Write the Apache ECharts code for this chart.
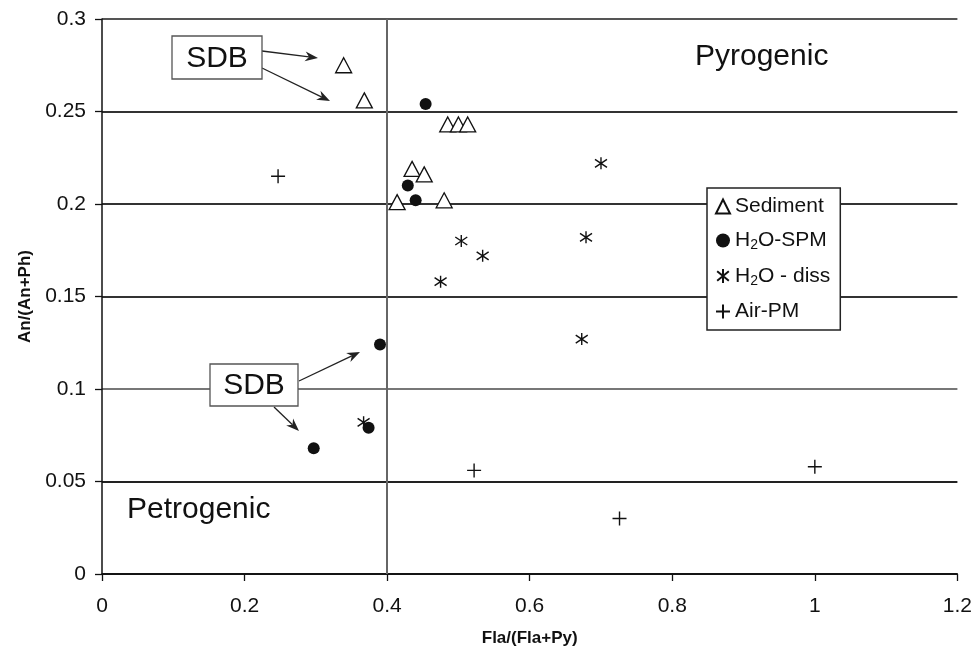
<!DOCTYPE html>
<html>
<head>
<meta charset="utf-8">
<script src="https://cdn.jsdelivr.net/npm/echarts@6/dist/echarts.min.js"></script>
<style>
  html, body { margin: 0; padding: 0; background: #fff; }
  #chart { width: 975px; height: 653px; }
</style>
</head>
<body>
<div id="chart"></div>
<script>
// values: [Fla/(Fla+Py), An/(An+Ph)]
var sediment = [
  [0.339, 0.275], [0.368, 0.256], [0.485, 0.243], [0.500, 0.243], [0.513, 0.243],
  [0.435, 0.219], [0.452, 0.216], [0.414, 0.201], [0.480, 0.202]
];
var h2oSpm = [
  [0.454, 0.254], [0.429, 0.210], [0.440, 0.202], [0.390, 0.124], [0.374, 0.079], [0.297, 0.068]
];
var h2oDiss = [
  [0.700, 0.222], [0.504, 0.180], [0.534, 0.172], [0.475, 0.158], [0.679, 0.182],
  [0.673, 0.127], [0.367, 0.082]
];
var airPm = [
  [0.247, 0.215], [0.522, 0.056], [1.0, 0.058], [0.726, 0.030]
];
var seriesNames = ["Sediment", "H2O-SPM", "H2O - diss", "Air-PM"];
var boundaryX = 0.4;

var FONT = "'Liberation Sans', Arial, sans-serif";
var asteriskPath = "path://M6,0 L6,12 M1,2 L11,10 M1,10 L11,2";
var plusPath = "path://M0,6 L12,6 M6,0 L6,12";

// arrow = line + stealth-like head
function arrow(x1, y1, x2, y2) {
  var dx = x2 - x1, dy = y2 - y1;
  var len = Math.sqrt(dx * dx + dy * dy);
  var ux = dx / len, uy = dy / len;
  var px = -uy, py = ux;
  var L = 13, W = 5, N = 9;
  var head = [
    [x2, y2],
    [x2 - ux * L + px * W, y2 - uy * L + py * W],
    [x2 - ux * N, y2 - uy * N],
    [x2 - ux * L - px * W, y2 - uy * L - py * W]
  ];
  return [
    { type: "line", silent: true, z: 100, shape: { x1: x1, y1: y1, x2: x2 - ux * N, y2: y2 - uy * N },
      style: { stroke: "#222", lineWidth: 1.3 } },
    { type: "polygon", silent: true, z: 100, shape: { points: head }, style: { fill: "#222" } }
  ];
}

function sdbBox(x, y, w, h) {
  return [
    { type: "rect", silent: true, z: 100, shape: { x: x, y: y, width: w, height: h },
      style: { fill: "#fff", stroke: "#555", lineWidth: 1.3 } },
    { type: "text", silent: true, z: 101, style: { text: "SDB", x: x + w / 2, y: y + h / 2 + 1,
      fontSize: 30, fontFamily: FONT, fill: "#111", textAlign: "center", textVerticalAlign: "middle" } }
  ];
}

var graphics = []
  .concat(arrow(262, 51, 318, 58))
  .concat(arrow(262, 68, 330, 101))
  .concat(arrow(299, 381, 360, 352))
  .concat(arrow(274, 407, 299, 431))
  .concat(sdbBox(172, 36, 90, 43))
  .concat(sdbBox(210, 364, 88, 42))
  .concat([
    { type: "text", silent: true, z: 100, style: { text: "Pyrogenic", x: 695, y: 57, fontSize: 30,
      fontFamily: FONT, fill: "#111", textVerticalAlign: "middle" } },
    { type: "text", silent: true, z: 100, style: { text: "Petrogenic", x: 127, y: 510, fontSize: 30,
      fontFamily: FONT, fill: "#111", textVerticalAlign: "middle" } }
  ]);

var myChart = echarts.init(document.getElementById("chart"));

var option = {
  backgroundColor: "#fff",
  animation: false,
  grid: { left: 102, top: 19, right: 17, bottom: 79, containLabel: false },
  legend: {
    data: seriesNames,
    orient: "vertical",
    left: 707,
    top: 188,
    padding: [8, 10, 8, 8],
    itemWidth: 14,
    itemHeight: 14,
    itemGap: 13,
    backgroundColor: "#fff",
    borderColor: "#222",
    borderWidth: 1.5,
    borderRadius: 0,
    formatter: function (name) {
      return name.replace("H2O", "H{sub|2}O");
    },
    textStyle: {
      fontSize: 21,
      fontFamily: FONT,
      color: "#111",
      rich: { sub: { fontSize: 14, fontFamily: FONT, color: "#111", padding: [10, 0, 0, 0] } }
    }
  },
  xAxis: {
    type: "value",
    min: 0, max: 1.2, interval: 0.2,
    name: "Fla/(Fla+Py)",
    nameLocation: "middle",
    nameGap: 56,
    nameTextStyle: { fontSize: 17, fontWeight: "bold", fontFamily: FONT, color: "#111" },
    axisLine: { lineStyle: { color: "#111", width: 1.5 } },
    axisTick: { show: true, length: 7, lineStyle: { color: "#111", width: 1.3 } },
    axisLabel: { fontSize: 21, fontFamily: FONT, color: "#111", margin: 22,
      formatter: function (v) { return String(+v.toFixed(2)); } },
    splitLine: { show: false }
  },
  yAxis: {
    type: "value",
    min: 0, max: 0.3, interval: 0.05,
    name: "An/(An+Ph)",
    nameLocation: "middle",
    nameGap: 64,
    nameTextStyle: { fontSize: 17, fontWeight: "bold", fontFamily: FONT, color: "#111" },
    axisLine: { show: true, lineStyle: { color: "#111", width: 1.5 } },
    axisTick: { show: true, length: 7, lineStyle: { color: "#111", width: 1.3 } },
    axisLabel: { fontSize: 21, fontFamily: FONT, color: "#111", margin: 16,
      formatter: function (v) { return String(+v.toFixed(2)); } },
    splitLine: { show: true, lineStyle: {
      color: ["#222", "#222", "#777", "#333", "#333", "#333", "#555"], width: 2 } }
  },
  series: [
    {
      name: seriesNames[0],
      type: "scatter",
      data: sediment,
      symbol: "triangle",
      symbolSize: [16, 15],
      itemStyle: { color: "#fff", borderColor: "#111", borderWidth: 1.3, opacity: 1 },
      z: 3,
      markLine: {
        silent: true,
        symbol: ["none", "none"],
        label: { show: false },
        lineStyle: { color: "#666", width: 2, type: "solid" },
        data: [{ xAxis: boundaryX }]
      }
    },
    {
      name: seriesNames[1],
      type: "scatter",
      data: h2oSpm,
      symbol: "circle",
      symbolSize: 12,
      itemStyle: { color: "#111", opacity: 1 },
      z: 4
    },
    {
      name: seriesNames[2],
      type: "scatter",
      data: h2oDiss,
      symbol: asteriskPath,
      symbolSize: 12,
      itemStyle: { color: "rgba(0,0,0,0)", borderColor: "#111", borderWidth: 1.4, opacity: 1 },
      z: 5
    },
    {
      name: seriesNames[3],
      type: "scatter",
      data: airPm,
      symbol: plusPath,
      symbolSize: 14,
      itemStyle: { color: "rgba(0,0,0,0)", borderColor: "#111", borderWidth: 1.4, opacity: 1 },
      z: 5
    }
  ],
  graphic: graphics
};

myChart.setOption(option);
</script>
</body>
</html>
